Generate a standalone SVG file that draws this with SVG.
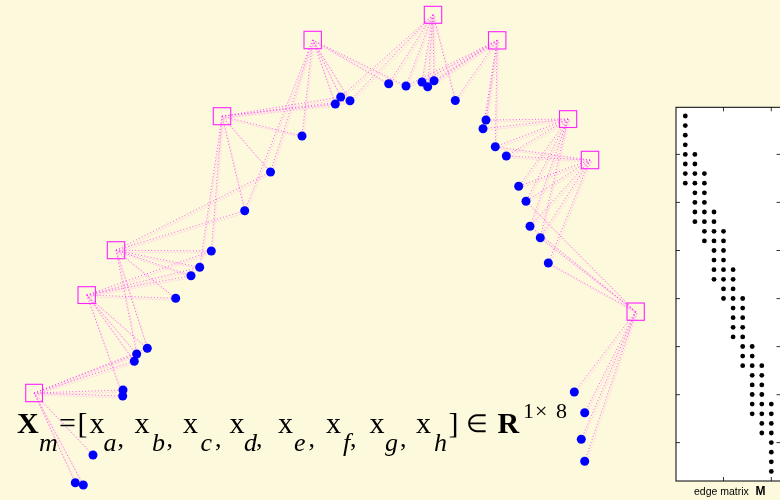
<svg xmlns="http://www.w3.org/2000/svg" xmlns:xlink="http://www.w3.org/1999/xlink" width="780" height="500" viewBox="0 0 780 500">
  <style>
    .edge { fill: none; stroke: #ff33ff; stroke-width: 1; stroke-dasharray: 1 2.2; opacity: 0.8; }
    .cl { fill: none; stroke: #ff22ff; stroke-width: 1.1; }
    .pt { fill: #0000ff; }
    .mx { fill: #000000; }
    .frame { fill: #ffffff; stroke: #000000; stroke-width: 1; }
    .tick { stroke: #000000; stroke-width: 0.8; }
    .f { font-family: "Liberation Serif", "Times New Roman", serif; fill: #000000; }
    .big { font-size: 30px; }
    .sub { font-size: 26px; font-style: italic; }
    .subr { font-size: 26px; }
    .sup { font-size: 22px; }
    .elem { font-size: 25px; }
    .b { font-weight: bold; }
    .lbl { font-family: "Liberation Sans", Arial, sans-serif; font-size: 10.5px; fill: #000000; }
  </style>

  <rect width="780" height="500" fill="#fdf9dc"/>

  <!-- edges between cluster centres and sample points -->
  <g id="connectors">
    <g id="edges">
      <path id="e-sq10" class="edge" d="M34 393L75.3 482.7M34 393L83.3 485M34 393L93 455M34 393L123 390M34 393L122.7 396M34 393L134.3 361.3M34 393L136.7 354M34 393L147.3 348.3"/>
      <path id="e-sq8" class="edge" d="M86.7 295L122.7 396M86.7 295L134.3 361.3M86.7 295L136.7 354M86.7 295L147.3 348.3M86.7 295L175.7 298.3M86.7 295L191 275.7M86.7 295L199.7 267.3M86.7 295L211.3 251"/>
      <path id="e-sq7" class="edge" d="M116 250.2L136.7 354M116 250.2L147.3 348.3M116 250.2L175.7 298.3M116 250.2L191 275.7M116 250.2L199.7 267.3M116 250.2L211.3 251M116 250.2L244.7 210.7M116 250.2L270.5 172"/>
      <path id="e-sq4" class="edge" d="M222 116.2L199.7 267.3M222 116.2L211.3 251M222 116.2L244.7 210.7M222 116.2L270.5 172M222 116.2L302 136M222 116.2L335.3 104M222 116.2L340.7 97M222 116.2L350 100.8"/>
      <path id="e-sq3" class="edge" d="M312.7 40L244.7 210.7M312.7 40L270.5 172M312.7 40L302 136M312.7 40L335.3 104M312.7 40L340.7 97M312.7 40L350 100.8M312.7 40L388.7 83.7M312.7 40L406 86"/>
      <path id="e-sq1" class="edge" d="M433 14.8L340.7 97M433 14.8L350 100.8M433 14.8L388.7 83.7M433 14.8L406 86M433 14.8L422 82M433 14.8L427.7 86.7M433 14.8L434 80.7M433 14.8L455.3 100.5"/>
      <path id="e-sq2" class="edge" d="M497.2 40.3L406 86M497.2 40.3L422 82M497.2 40.3L427.7 86.7M497.2 40.3L434 80.7M497.2 40.3L455.3 100.5M497.2 40.3L486 120M497.2 40.3L483 128.7M497.2 40.3L495.3 146.7"/>
      <path id="e-sq5" class="edge" d="M568 119L486 120M568 119L483 128.7M568 119L495.3 146.7M568 119L506.3 156M568 119L518.7 186.3M568 119L526 201.3M568 119L530 226.3M568 119L540.3 237.7"/>
      <path id="e-sq6" class="edge" d="M590 160L495.3 146.7M590 160L506.3 156M590 160L518.7 186.3M590 160L526 201.3M590 160L530 226.3M590 160L540.3 237.7M590 160L548.3 263"/>
      <path id="e-sq9" class="edge" d="M635.7 311.7L526 201.3M635.7 311.7L530 226.3M635.7 311.7L540.3 237.7M635.7 311.7L548.3 263M635.7 311.7L574.3 392M635.7 311.7L584.7 412.7M635.7 311.7L581.3 439.3M635.7 311.7L584.7 461.3"/>
    </g>
    <use xlink:href="#edges" href="#edges" transform="translate(1.3 1.8)" opacity="0.5"/>
  </g>

  <!-- cluster centres -->
  <g id="sq1"><rect class="cl" x="424.3" y="6.3" width="17.4" height="17"/></g>
  <g id="sq2"><rect class="cl" x="488.5" y="31.7" width="17.4" height="17.3"/></g>
  <g id="sq3"><rect class="cl" x="304" y="31.3" width="17.4" height="17.4"/></g>
  <g id="sq4"><rect class="cl" x="213.3" y="107.7" width="17.4" height="17"/></g>
  <g id="sq5"><rect class="cl" x="559.5" y="110.7" width="17.2" height="16.8"/></g>
  <g id="sq6"><rect class="cl" x="581.3" y="151.3" width="17.4" height="17.4"/></g>
  <g id="sq7"><rect class="cl" x="107.3" y="241.7" width="17.4" height="17"/></g>
  <g id="sq8"><rect class="cl" x="78" y="286.7" width="17.4" height="16.8"/></g>
  <g id="sq9"><rect class="cl" x="627" y="303" width="17.3" height="17.3"/></g>
  <g id="sq10"><rect class="cl" x="25.7" y="384.3" width="16.8" height="17.4"/></g>

  <!-- sample points -->
  <g id="points">
    <g id="p1"><circle class="pt" cx="75.3" cy="482.7" r="4.5"/></g>
    <g id="p2"><circle class="pt" cx="83.3" cy="485" r="4.5"/></g>
    <g id="p3"><circle class="pt" cx="93" cy="455" r="4.5"/></g>
    <g id="p4"><circle class="pt" cx="123" cy="390" r="4.5"/></g>
    <g id="p5"><circle class="pt" cx="122.7" cy="396" r="4.5"/></g>
    <g id="p6"><circle class="pt" cx="134.3" cy="361.3" r="4.5"/></g>
    <g id="p7"><circle class="pt" cx="136.7" cy="354" r="4.5"/></g>
    <g id="p8"><circle class="pt" cx="147.3" cy="348.3" r="4.5"/></g>
    <g id="p9"><circle class="pt" cx="175.7" cy="298.3" r="4.5"/></g>
    <g id="p10"><circle class="pt" cx="191" cy="275.7" r="4.5"/></g>
    <g id="p11"><circle class="pt" cx="199.7" cy="267.3" r="4.5"/></g>
    <g id="p12"><circle class="pt" cx="211.3" cy="251" r="4.5"/></g>
    <g id="p13"><circle class="pt" cx="244.7" cy="210.7" r="4.5"/></g>
    <g id="p14"><circle class="pt" cx="270.5" cy="172" r="4.5"/></g>
    <g id="p15"><circle class="pt" cx="302" cy="136" r="4.5"/></g>
    <g id="p16"><circle class="pt" cx="335.3" cy="104" r="4.5"/></g>
    <g id="p17"><circle class="pt" cx="340.7" cy="97" r="4.5"/></g>
    <g id="p18"><circle class="pt" cx="350" cy="100.8" r="4.5"/></g>
    <g id="p19"><circle class="pt" cx="388.7" cy="83.7" r="4.5"/></g>
    <g id="p20"><circle class="pt" cx="406" cy="86" r="4.5"/></g>
    <g id="p21"><circle class="pt" cx="422" cy="82" r="4.5"/></g>
    <g id="p22"><circle class="pt" cx="427.7" cy="86.7" r="4.5"/></g>
    <g id="p23"><circle class="pt" cx="434" cy="80.7" r="4.5"/></g>
    <g id="p24"><circle class="pt" cx="455.3" cy="100.5" r="4.5"/></g>
    <g id="p25"><circle class="pt" cx="486" cy="120" r="4.5"/></g>
    <g id="p26"><circle class="pt" cx="483" cy="128.7" r="4.5"/></g>
    <g id="p27"><circle class="pt" cx="495.3" cy="146.7" r="4.5"/></g>
    <g id="p28"><circle class="pt" cx="506.3" cy="156" r="4.5"/></g>
    <g id="p29"><circle class="pt" cx="518.7" cy="186.3" r="4.5"/></g>
    <g id="p30"><circle class="pt" cx="526" cy="201.3" r="4.5"/></g>
    <g id="p31"><circle class="pt" cx="530" cy="226.3" r="4.5"/></g>
    <g id="p32"><circle class="pt" cx="540.3" cy="237.7" r="4.5"/></g>
    <g id="p33"><circle class="pt" cx="548.3" cy="263" r="4.5"/></g>
    <g id="p34"><circle class="pt" cx="574.3" cy="392" r="4.5"/></g>
    <g id="p35"><circle class="pt" cx="584.7" cy="412.7" r="4.5"/></g>
    <g id="p36"><circle class="pt" cx="581.3" cy="439.3" r="4.5"/></g>
    <g id="p37"><circle class="pt" cx="584.7" cy="461.3" r="4.5"/></g>
  </g>

  <!-- feature vector formula -->
  <g id="formula">
    <text class="f big b" x="17" y="433">X</text>
    <text class="f sub" x="39" y="451">m</text>
    <text class="f big" x="59" y="433">=</text>
    <text class="f big" x="77.5" y="433">[</text>
    <text class="f big" x="89.5" y="433">x</text>
    <text class="f sub" x="103.5" y="451">a</text>
    <text class="f subr" x="117.5" y="447">,</text>
    <text class="f big" x="134.5" y="433">x</text>
    <text class="f sub" x="152" y="451">b</text>
    <text class="f subr" x="166.5" y="447">,</text>
    <text class="f big" x="183" y="433">x</text>
    <text class="f sub" x="200.5" y="451">c</text>
    <text class="f subr" x="215" y="447">,</text>
    <text class="f big" x="229.5" y="433">x</text>
    <text class="f sub" x="244" y="451">d</text>
    <text class="f subr" x="256" y="447">,</text>
    <text class="f big" x="278" y="433">x</text>
    <text class="f sub" x="294" y="451">e</text>
    <text class="f subr" x="308.5" y="447">,</text>
    <text class="f big" x="326" y="433">x</text>
    <text class="f sub" x="343" y="451">f</text>
    <text class="f subr" x="350" y="447">,</text>
    <text class="f big" x="369.5" y="433">x</text>
    <text class="f sub" x="385" y="451">g</text>
    <text class="f subr" x="400" y="447">,</text>
    <text class="f big" x="416" y="433">x</text>
    <text class="f sub" x="434" y="451">h</text>
    <text class="f big" x="448.5" y="433">]</text>
    <text class="f elem" x="465.5" y="432">∈</text>
    <text class="f big b" x="497.5" y="433">R</text>
    <text class="f sup" x="523" y="418">1</text>
    <text class="f sup" x="535" y="418">×</text>
    <text class="f sup" x="556" y="418">8</text>
  </g>

  <!-- edge matrix panel -->
  <g id="edge-matrix">
    <rect class="frame" x="676" y="107.3" width="110" height="373.7"/>
    <g id="ticks">
      <path class="tick" d="M723.5 107.3v4M771.3 107.3v4M723.5 481v-4M771.3 481v-4"/>
      <path class="tick" d="M676 154.4h4M676 202.4h4M676 250.5h4M676 298.6h4M676 346.6h4M676 394.7h4M676 442.6h4"/>
      <path class="tick" d="M776.5 154.4h4M776.5 202.4h4M776.5 250.5h4M776.5 298.6h4M776.5 346.6h4M776.5 394.7h4M776.5 442.6h4"/>
    </g>
    <g id="entries">
      <!-- column 1 -->
      <circle class="mx" cx="685.3" cy="116" r="2.4"/>
      <circle class="mx" cx="685.3" cy="125.6" r="2.4"/>
      <circle class="mx" cx="685.3" cy="135.2" r="2.4"/>
      <circle class="mx" cx="685.3" cy="144.8" r="2.4"/>
      <circle class="mx" cx="685.3" cy="154.4" r="2.4"/>
      <circle class="mx" cx="685.3" cy="164" r="2.4"/>
      <circle class="mx" cx="685.3" cy="173.6" r="2.4"/>
      <circle class="mx" cx="685.3" cy="183.2" r="2.4"/>
      <!-- column 2 -->
      <circle class="mx" cx="694.9" cy="154.4" r="2.4"/>
      <circle class="mx" cx="694.9" cy="164" r="2.4"/>
      <circle class="mx" cx="694.9" cy="173.6" r="2.4"/>
      <circle class="mx" cx="694.9" cy="183.2" r="2.4"/>
      <circle class="mx" cx="694.9" cy="192.8" r="2.4"/>
      <circle class="mx" cx="694.9" cy="202.4" r="2.4"/>
      <circle class="mx" cx="694.9" cy="212" r="2.4"/>
      <circle class="mx" cx="694.9" cy="221.7" r="2.4"/>
      <!-- column 3 -->
      <circle class="mx" cx="704.4" cy="173.6" r="2.4"/>
      <circle class="mx" cx="704.4" cy="183.2" r="2.4"/>
      <circle class="mx" cx="704.4" cy="192.8" r="2.4"/>
      <circle class="mx" cx="704.4" cy="202.4" r="2.4"/>
      <circle class="mx" cx="704.4" cy="212" r="2.4"/>
      <circle class="mx" cx="704.4" cy="221.7" r="2.4"/>
      <circle class="mx" cx="704.4" cy="231.3" r="2.4"/>
      <circle class="mx" cx="704.4" cy="240.9" r="2.4"/>
      <!-- column 4 -->
      <circle class="mx" cx="714" cy="212" r="2.4"/>
      <circle class="mx" cx="714" cy="221.7" r="2.4"/>
      <circle class="mx" cx="714" cy="231.3" r="2.4"/>
      <circle class="mx" cx="714" cy="240.9" r="2.4"/>
      <circle class="mx" cx="714" cy="250.5" r="2.4"/>
      <circle class="mx" cx="714" cy="260.1" r="2.4"/>
      <circle class="mx" cx="714" cy="269.7" r="2.4"/>
      <circle class="mx" cx="714" cy="279.3" r="2.4"/>
      <!-- column 5 -->
      <circle class="mx" cx="723.5" cy="231.3" r="2.4"/>
      <circle class="mx" cx="723.5" cy="240.9" r="2.4"/>
      <circle class="mx" cx="723.5" cy="250.5" r="2.4"/>
      <circle class="mx" cx="723.5" cy="260.1" r="2.4"/>
      <circle class="mx" cx="723.5" cy="269.7" r="2.4"/>
      <circle class="mx" cx="723.5" cy="279.3" r="2.4"/>
      <circle class="mx" cx="723.5" cy="288.9" r="2.4"/>
      <circle class="mx" cx="723.5" cy="298.5" r="2.4"/>
      <!-- column 6 -->
      <circle class="mx" cx="733.1" cy="269.7" r="2.4"/>
      <circle class="mx" cx="733.1" cy="279.3" r="2.4"/>
      <circle class="mx" cx="733.1" cy="288.9" r="2.4"/>
      <circle class="mx" cx="733.1" cy="298.5" r="2.4"/>
      <circle class="mx" cx="733.1" cy="308.1" r="2.4"/>
      <circle class="mx" cx="733.1" cy="317.7" r="2.4"/>
      <circle class="mx" cx="733.1" cy="327.3" r="2.4"/>
      <circle class="mx" cx="733.1" cy="336.9" r="2.4"/>
      <!-- column 7 -->
      <circle class="mx" cx="742.7" cy="298.5" r="2.4"/>
      <circle class="mx" cx="742.7" cy="308.1" r="2.4"/>
      <circle class="mx" cx="742.7" cy="317.7" r="2.4"/>
      <circle class="mx" cx="742.7" cy="327.3" r="2.4"/>
      <circle class="mx" cx="742.7" cy="336.9" r="2.4"/>
      <circle class="mx" cx="742.7" cy="346.5" r="2.4"/>
      <circle class="mx" cx="742.7" cy="356.1" r="2.4"/>
      <circle class="mx" cx="742.7" cy="365.7" r="2.4"/>
      <!-- column 8 -->
      <circle class="mx" cx="752.2" cy="346.5" r="2.4"/>
      <circle class="mx" cx="752.2" cy="356.1" r="2.4"/>
      <circle class="mx" cx="752.2" cy="365.7" r="2.4"/>
      <circle class="mx" cx="752.2" cy="375.3" r="2.4"/>
      <circle class="mx" cx="752.2" cy="384.9" r="2.4"/>
      <circle class="mx" cx="752.2" cy="394.5" r="2.4"/>
      <circle class="mx" cx="752.2" cy="404.1" r="2.4"/>
      <circle class="mx" cx="752.2" cy="413.8" r="2.4"/>
      <!-- column 9 -->
      <circle class="mx" cx="761.8" cy="365.7" r="2.4"/>
      <circle class="mx" cx="761.8" cy="375.3" r="2.4"/>
      <circle class="mx" cx="761.8" cy="384.9" r="2.4"/>
      <circle class="mx" cx="761.8" cy="394.5" r="2.4"/>
      <circle class="mx" cx="761.8" cy="404.1" r="2.4"/>
      <circle class="mx" cx="761.8" cy="413.8" r="2.4"/>
      <circle class="mx" cx="761.8" cy="423.4" r="2.4"/>
      <circle class="mx" cx="761.8" cy="433" r="2.4"/>
      <!-- column 10 -->
      <circle class="mx" cx="771.3" cy="404.1" r="2.4"/>
      <circle class="mx" cx="771.3" cy="413.8" r="2.4"/>
      <circle class="mx" cx="771.3" cy="423.4" r="2.4"/>
      <circle class="mx" cx="771.3" cy="433" r="2.4"/>
      <circle class="mx" cx="771.3" cy="442.6" r="2.4"/>
      <circle class="mx" cx="771.3" cy="452.2" r="2.4"/>
      <circle class="mx" cx="771.3" cy="461.8" r="2.4"/>
      <circle class="mx" cx="771.3" cy="471.4" r="2.4"/>
    </g>
    <text class="lbl" x="694" y="495">edge matrix<tspan x="755.5" font-weight="bold" font-size="12px">M</tspan></text>
  </g>
</svg>
